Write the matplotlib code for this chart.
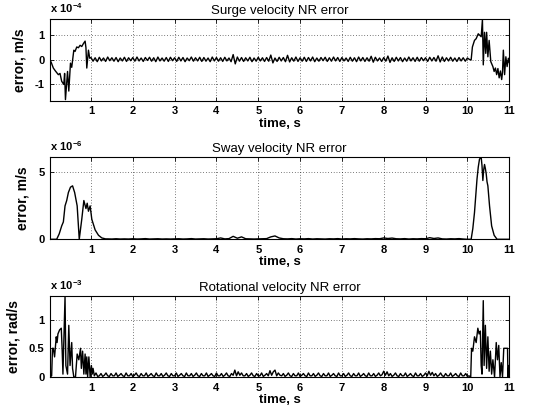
import numpy as np
import matplotlib
matplotlib.use("Agg")
import matplotlib.pyplot as plt

plt.rcParams['font.family'] = ['Liberation Sans', 'DejaVu Sans']
plt.rcParams['mathtext.fontset'] = 'custom'
plt.rcParams['mathtext.rm'] = 'Liberation Sans'
plt.rcParams['mathtext.bf'] = 'Liberation Sans:bold'

# ---------------- surge velocity error (x 1e-4 m/s) ----------------
surge_start_t = [0.02, 0.05, 0.10, 0.15, 0.22, 0.26, 0.30, 0.35, 0.37, 0.39, 0.42, 0.44,
                 0.47, 0.51, 0.54, 0.59, 0.62, 0.66, 0.70, 0.74, 0.78, 0.82, 0.86, 0.88,
                 0.90, 0.94, 0.97]
surge_start_v = [0.0, -0.1, -0.33, -0.45, -0.6, -0.55, -0.87, -1.0, -0.55, -1.62, -0.9, -0.47,
                 -1.27, -0.13, -0.3, 0.4, 0.35, 0.53, 0.5, 0.6, 0.55, 0.67, 0.77, 0.5,
                 -0.33, 0.4, 0.07]
# sampled every 0.05 s from t = 1.00
surge_mid_v = [
    0.10, -0.05, 0.09, -0.07, 0.11, -0.04, 0.08, -0.06, 0.12, -0.03, 0.09, -0.05, 0.10, -0.07, 0.08, -0.04, 0.11, -0.06, 0.09, -0.03,
    0.10, -0.05, 0.12, -0.04, 0.08, -0.06, 0.10, -0.02, 0.11, -0.05, 0.09, -0.07, 0.12, -0.04, 0.08, -0.05, 0.10, -0.06, 0.11, -0.03,
    0.09, -0.06, 0.11, -0.04, 0.10, -0.07, 0.08, -0.03, 0.12, -0.05, 0.09, -0.04, 0.11, -0.06, 0.10, -0.05, 0.08, -0.07, 0.12, -0.04,
    0.10, -0.05, 0.09, -0.06, 0.11, -0.04, 0.08, -0.07, 0.22, -0.16, 0.12, -0.05, 0.10, -0.06, 0.09, -0.04, 0.11, -0.07, 0.08, -0.05,
    0.11, -0.04, 0.09, -0.06, 0.10, -0.05, 0.20, -0.12, 0.08, -0.06, 0.11, -0.04, 0.10, -0.07, 0.19, -0.08, 0.09, -0.05, 0.12, -0.06,
    0.09, -0.05, 0.11, -0.06, 0.10, -0.04, 0.12, -0.07, 0.08, -0.05, 0.10, -0.03, 0.11, -0.06, 0.09, -0.05, 0.12, -0.04, 0.10, -0.06,
    0.10, -0.04, 0.08, -0.06, 0.11, -0.05, 0.09, -0.07, 0.12, -0.04, 0.10, -0.06, 0.09, -0.05, 0.15, -0.09, 0.11, -0.04, 0.08, -0.06,
    0.10, -0.05, 0.16, -0.10, 0.09, -0.06, 0.11, -0.04, 0.10, -0.07, 0.08, -0.05, 0.12, -0.04, 0.09, -0.06, 0.11, -0.05, 0.10, -0.03,
    0.09, -0.06, 0.11, -0.04, 0.10, -0.05, 0.17, -0.08, 0.12, -0.06, 0.09, -0.04, 0.11, -0.05, 0.08, -0.06, 0.10, -0.04, 0.09, -0.05,
    0.08, 0.02]
surge_end_t = [10.09, 10.12, 10.17, 10.21, 10.26, 10.30, 10.33, 10.36, 10.38, 10.41, 10.44, 10.46,
               10.49, 10.52, 10.56, 10.61, 10.64, 10.67, 10.70, 10.73, 10.76, 10.79, 10.82, 10.84,
               10.86, 10.89, 10.92, 10.95, 10.98, 11.0]
surge_end_v = [0.0, 0.53, 0.8, 0.87, 1.07, 1.0, 0.95, 1.65, -0.2, 1.13, 0.27, 1.13,
               0.13, 0.8, -0.07, -0.27, -0.47, -0.33, -0.6, -0.35, -0.73, -0.45, -0.8, -0.5,
               0.4, -0.6, 0.13, -0.27, 0.07, -0.1]

# ---------------- sway velocity error (x 1e-6 m/s) ----------------
sway_start_t = [0.02, 0.18, 0.24, 0.30, 0.34, 0.38, 0.42, 0.46, 0.51, 0.56, 0.61, 0.67,
                0.72, 0.78, 0.83, 0.88, 0.91, 0.94, 0.98, 1.02, 1.10, 1.18, 1.26, 1.35]
sway_start_v = [0.0, 0.0, 0.4, 1.0, 1.3, 2.5, 2.9, 3.5, 3.9, 4.0, 3.5, 2.5,
                0.0, 1.5, 2.9, 2.3, 2.7, 2.1, 2.5, 1.5, 0.7, 0.3, 0.1, 0.03]
# sampled every 0.1 s from t = 1.4
sway_mid_v = [
    0.03, 0.02, 0.04, 0.02, 0.03, 0.02,
    0.04, 0.02, 0.03, 0.05, 0.02, 0.03, 0.04, 0.02, 0.03, 0.02,
    0.03, 0.04, 0.02, 0.03, 0.05, 0.02, 0.03, 0.04, 0.02, 0.03,
    0.04, 0.10, 0.03, 0.05, 0.22, 0.08, 0.18, 0.04, 0.03, 0.02,
    0.03, 0.04, 0.05, 0.18, 0.25, 0.10, 0.04, 0.03, 0.05, 0.02,
    0.04, 0.03, 0.05, 0.02, 0.04, 0.03, 0.02, 0.04, 0.03, 0.05,
    0.02, 0.04, 0.03, 0.05, 0.03, 0.02, 0.04, 0.03, 0.05, 0.04,
    0.10, 0.06, 0.09, 0.04, 0.03, 0.05, 0.02, 0.04, 0.03, 0.05,
    0.04, 0.12, 0.06, 0.10, 0.03, 0.02, 0.04, 0.03, 0.05, 0.02,
    0.0]
sway_end_t = [10.09, 10.13, 10.17, 10.20, 10.23, 10.26, 10.29, 10.33, 10.35, 10.37, 10.39,
              10.41, 10.43, 10.45, 10.47, 10.49, 10.53, 10.58, 10.64, 10.71, 11.0]
sway_end_v = [0.0, 0.8, 2.0, 3.2, 4.5, 5.4, 6.0, 6.15, 5.5, 4.4, 5.2,
              5.6, 5.3, 4.9, 4.3, 4.0, 2.5, 1.0, 0.3, 0.0, 0.0]

# ---------------- rotational velocity error (x 1e-3 rad/s) ----------------
rot_start_t = [0.02, 0.06, 0.08, 0.10, 0.13, 0.17, 0.19, 0.21, 0.25, 0.29, 0.31, 0.33,
               0.38, 0.40, 0.44, 0.47, 0.50, 0.54, 0.56, 0.59, 0.63, 0.67, 0.71, 0.75,
               0.77, 0.80, 0.83, 0.86, 0.88, 0.90, 0.92, 0.95, 0.98, 1.01, 1.03, 1.05]
rot_start_v = [0.0, 0.02, 0.5, 0.5, 0.35, 0.7, 0.6, 0.75, 0.82, 0.85, 0.5, 0.05,
               1.4, 0.2, 0.05, 0.9, 0.2, 0.6, 0.15, 0.0, 0.0, 0.4, 0.3, 0.5,
               0.15, 0.45, 0.05, 0.4, 0.05, 0.35, 0.0, 0.35, 0.0, 0.2, 0.05, 0.15]
# sampled every 0.04 s from t = 1.08
rot_mid_v = [
    0.02, 0.07, 0.01, 0.02, 0.06, 0.01, 0.03, 0.07, 0.02, 0.01, 0.06, 0.02, 0.02, 0.07, 0.01, 0.03, 0.06, 0.02, 0.01, 0.07, 0.02, 0.02, 0.06, 0.01, 0.03,
    0.07, 0.02, 0.01, 0.06, 0.02, 0.02, 0.07, 0.01, 0.03, 0.06, 0.02, 0.01, 0.07, 0.02, 0.02, 0.06, 0.01, 0.03, 0.07, 0.02, 0.01, 0.06, 0.02, 0.02, 0.07,
    0.01, 0.03, 0.06, 0.02, 0.01, 0.07, 0.02, 0.02, 0.06, 0.01, 0.03, 0.07, 0.02, 0.01, 0.06, 0.02, 0.02, 0.07, 0.01, 0.03, 0.06, 0.02, 0.01, 0.07, 0.02,
    0.02, 0.06, 0.01, 0.03, 0.07, 0.02, 0.01, 0.06, 0.03, 0.12, 0.02, 0.09, 0.03, 0.07, 0.02, 0.02, 0.06, 0.01, 0.03, 0.07, 0.02, 0.01, 0.06, 0.02, 0.02,
    0.07, 0.01, 0.03, 0.06, 0.02, 0.11, 0.03, 0.09, 0.12, 0.02, 0.07, 0.03, 0.02, 0.06, 0.01, 0.03, 0.07, 0.02, 0.01, 0.06, 0.02, 0.02, 0.07, 0.01, 0.03,
    0.06, 0.02, 0.01, 0.07, 0.02, 0.02, 0.06, 0.01, 0.03, 0.07, 0.02, 0.01, 0.06, 0.02, 0.02, 0.07, 0.01, 0.03, 0.06, 0.02, 0.01, 0.07, 0.02, 0.02, 0.06,
    0.01, 0.03, 0.07, 0.02, 0.01, 0.06, 0.02, 0.02, 0.07, 0.01, 0.03, 0.06, 0.02, 0.01, 0.07, 0.02, 0.02, 0.06, 0.01, 0.03, 0.07, 0.02, 0.04, 0.10, 0.03,
    0.09, 0.02, 0.06, 0.01, 0.03, 0.07, 0.02, 0.01, 0.06, 0.02, 0.02, 0.07, 0.01, 0.03, 0.06, 0.02, 0.01, 0.07, 0.02, 0.02, 0.06, 0.01, 0.03, 0.07, 0.02,
    0.10, 0.03, 0.08, 0.02, 0.06, 0.01, 0.03, 0.07, 0.02, 0.01, 0.06, 0.02, 0.02, 0.07, 0.01, 0.03, 0.06, 0.02, 0.01, 0.07, 0.02, 0.02, 0.06, 0.01, 0.02]
rot_end_t = [10.08, 10.10, 10.13, 10.17, 10.21, 10.25, 10.28, 10.31, 10.33, 10.35, 10.38, 10.40,
             10.43, 10.46, 10.49, 10.52, 10.55, 10.58, 10.61, 10.65, 10.69, 10.72, 10.75, 10.78,
             10.81, 10.84, 10.87, 10.96, 10.97, 10.99, 11.0]
rot_end_v = [0.0, 0.5, 0.45, 0.7, 0.6, 0.85, 0.75, 0.8, 0.2, 0.05, 1.33, 0.2,
             0.9, 0.15, 0.7, 0.1, 0.45, 0.05, 0.3, 0.0, 0.6, 0.3, 0.55, 0.0,
             0.25, 0.0, 0.5, 0.5, 0.0, 0.2, 0.15]


def join(t0, v0, mid_start, mid_step, vmid, t1, v1):
    # stitch the start burst, the evenly sampled middle and the end burst
    tm = mid_start + mid_step * np.arange(len(vmid))
    t = np.concatenate([t0, tm, t1])
    v = np.concatenate([v0, vmid, v1])
    return t, v


surge_t, surge_v = join(surge_start_t, surge_start_v, 1.0, 0.05, surge_mid_v, surge_end_t, surge_end_v)
sway_t, sway_v = join(sway_start_t, sway_start_v, 1.4, 0.1, sway_mid_v, sway_end_t, sway_end_v)
rot_t, rot_v = join(rot_start_t, rot_start_v, 1.08, 0.04, rot_mid_v, rot_end_t, rot_end_v)

panels = [
    (surge_t, surge_v, 'Surge velocity NR error', 'error, m/s', '-4', (-1.67, 1.67), [-1, 0, 1], ['-1', '0', '1']),
    (sway_t, sway_v, 'Sway velocity NR error', 'error, m/s', '-6', (0, 6.15), [0, 5], ['0', '5']),
    (rot_t, rot_v, 'Rotational velocity NR error', 'error, rad/s', '-3', (0, 1.41), [0, 0.5, 1], ['0', '0.5', '1']),
]
# axes boxes in figure fractions: left, bottom, width, height
boxes = [(0.0912, 0.757, 0.838, 0.197),
         (0.0912, 0.4234, 0.838, 0.198),
         (0.0912, 0.0916, 0.838, 0.195)]

fig = plt.figure(figsize=(5.48, 4.15), dpi=100)
for (t, v, title, ylab, exp, ylim, yt, ytl), box in zip(panels, boxes):
    ax = fig.add_axes(box)
    ax.plot(t, v, color='black', lw=1.0)
    ax.set_xlim(0.02, 11)
    ax.set_ylim(*ylim)
    ax.set_xticks(range(1, 12))
    ax.set_xticklabels([str(i) for i in range(1, 12)], fontweight='bold', fontsize=8)
    ax.set_yticks(yt)
    ax.set_yticklabels(ytl, fontweight='bold', fontsize=8)
    ax.tick_params(direction='in', top=True, right=True, length=3, width=0.6, pad=4)
    ax.grid(True, color='black', linestyle=(0, (1, 3)), linewidth=0.5)
    for s in ax.spines.values():
        s.set_linewidth(0.8)
    ax.set_title(title, fontsize=9.5, pad=4)
    ax.set_xlabel('time, s', fontsize=9.5, fontweight='bold', labelpad=1)
    ax.set_ylabel(ylab, fontsize=10, fontweight='bold', labelpad=6)
    ax.text(0.0, 1.05, r'$\mathbf{x\ 10^{' + exp + '}}$', transform=ax.transAxes,
            fontsize=8, ha='left', va='bottom')

fig.savefig('out.png', dpi=100)
